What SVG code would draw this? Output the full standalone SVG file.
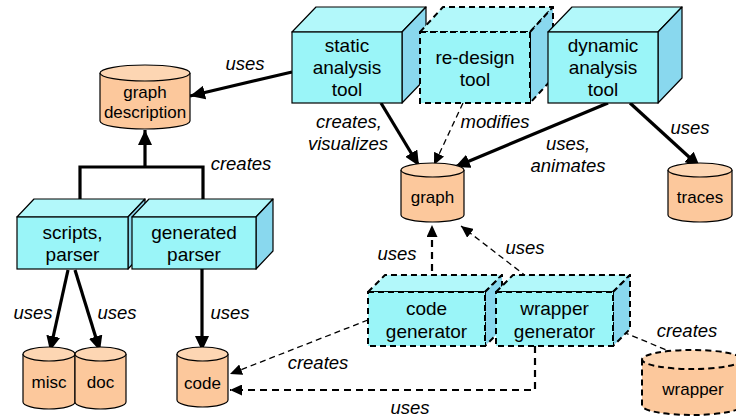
<svg xmlns="http://www.w3.org/2000/svg" width="736" height="418" viewBox="0 0 736 418">
  <style>
    .front { fill: #9af5f8; stroke: #000; stroke-width: 1.2; }
    .top { fill: #b2f8fa; stroke: #000; stroke-width: 1.2; stroke-linejoin: round; }
    .side { fill: #89d8ee; stroke: #000; stroke-width: 1.2; stroke-linejoin: round; }
    .dashed .front, .dashed .top, .dashed .side { stroke-width: 2; stroke-dasharray: 6 4; }
    .body { fill: #fcc89c; stroke: #000; stroke-width: 1.2; }
    .lid { fill: #fdd6b3; stroke: #000; stroke-width: 1.2; }
    .dashed .body, .dashed .lid { stroke-width: 2; stroke-dasharray: 6 4; }
    .box-text { font-family: "Liberation Sans", Arial, sans-serif; font-size: 19px; fill: #000; text-anchor: middle; }
    .db-text { font-family: "Liberation Sans", Arial, sans-serif; font-size: 17px; fill: #000; text-anchor: middle; }
    .label { font-family: "Liberation Sans", Arial, sans-serif; font-size: 18.5px; font-style: italic; fill: #000; text-anchor: middle; }
    .thick { fill: none; stroke: #000; stroke-width: 3.2; }
    .thick-dash { fill: none; stroke: #000; stroke-width: 2.2; stroke-dasharray: 7 5; }
    .thin-dash { fill: none; stroke: #000; stroke-width: 1.3; stroke-dasharray: 6 4; }
  </style>
  <defs>
    <marker id="head" markerUnits="userSpaceOnUse" markerWidth="16" markerHeight="14" refX="15" refY="7" orient="auto">
      <path d="M0,0 L15,7 L0,14 z" fill="#000"/>
    </marker>
    <marker id="head-small" markerUnits="userSpaceOnUse" markerWidth="13" markerHeight="11" refX="12" refY="5.5" orient="auto">
      <path d="M0,0 L12,5.5 L0,11 z" fill="#000"/>
    </marker>
  </defs>

  <!-- connectors -->
  <g id="connectors">
    <line class="thick" x1="292" y1="72" x2="190" y2="96" marker-end="url(#head)"/>
    <polyline class="thick" points="80,206 80,167 203,167 203,206" stroke-linejoin="miter"/>
    <line class="thick" x1="145" y1="167" x2="145" y2="130" marker-end="url(#head)"/>
    <line class="thick" x1="68" y1="270" x2="50" y2="351" marker-end="url(#head)"/>
    <line class="thick" x1="75" y1="270" x2="100" y2="351" marker-end="url(#head)"/>
    <line class="thick" x1="202" y1="269" x2="202" y2="351" marker-end="url(#head)"/>
    <line class="thick" x1="381" y1="103" x2="419" y2="166" marker-end="url(#head)"/>
    <line class="thin-dash" x1="463" y1="103" x2="434" y2="165" marker-end="url(#head-small)"/>
    <line class="thick" x1="608" y1="103" x2="455" y2="167" marker-end="url(#head)"/>
    <line class="thick" x1="630" y1="103" x2="700" y2="167" marker-end="url(#head)"/>
    <line class="thick-dash" x1="432" y1="283" x2="432" y2="225" marker-end="url(#head-small)"/>
    <line class="thin-dash" x1="535" y1="283" x2="461" y2="226" marker-end="url(#head-small)"/>
    <line class="thin-dash" x1="368" y1="320" x2="230" y2="374" marker-end="url(#head-small)"/>
    <polyline class="thick-dash" points="535,346 535,390 230,390" marker-end="url(#head-small)"/>
    <line class="thin-dash" x1="623" y1="332" x2="688" y2="359" marker-end="url(#head-small)"/>
  </g>

  <!-- connector labels -->
  <g id="labels">
    <text class="label" x="245" y="69.5">uses</text>
    <text class="label" x="241" y="170">creates</text>
    <text class="label" x="349" y="127.5">creates,</text>
    <text class="label" x="348" y="149.5">visualizes</text>
    <text class="label" x="495" y="127.5">modifies</text>
    <text class="label" x="568" y="149.5">uses,</text>
    <text class="label" x="568" y="171.5">animates</text>
    <text class="label" x="690" y="133.5">uses</text>
    <text class="label" x="397" y="259.5">uses</text>
    <text class="label" x="525" y="253.5">uses</text>
    <text class="label" x="33" y="318.5">uses</text>
    <text class="label" x="117" y="318.5">uses</text>
    <text class="label" x="230" y="318.5">uses</text>
    <text class="label" x="318" y="368.5">creates</text>
    <text class="label" x="410" y="413.5">uses</text>
    <text class="label" x="687" y="336.5">creates</text>
  </g>

  <!-- data stores -->
  <g id="graph-description">
    <path class="body" d="M100,73 V121 A45,8 0 0 0 190,121 V73"/>
    <ellipse class="lid" cx="145" cy="73" rx="45" ry="8"/>
    <text class="db-text" x="145" y="98">graph</text>
    <text class="db-text" x="145" y="118">description</text>
  </g>
  <g id="graph">
    <path class="body" d="M401,170 V215 A31.5,7 0 0 0 464,215 V170"/>
    <ellipse class="lid" cx="432.5" cy="170" rx="31.5" ry="7"/>
    <text class="db-text" x="432.5" y="203">graph</text>
  </g>
  <g id="traces">
    <path class="body" d="M668,170 V215 A32,7 0 0 0 732,215 V170"/>
    <ellipse class="lid" cx="700" cy="170" rx="32" ry="7"/>
    <text class="db-text" x="700" y="203">traces</text>
  </g>
  <g id="misc">
    <path class="body" d="M23,354 V402 A26,7 0 0 0 75,402 V354"/>
    <ellipse class="lid" cx="49" cy="354" rx="26" ry="7"/>
    <text class="db-text" x="49" y="388">misc</text>
  </g>
  <g id="doc">
    <path class="body" d="M75,354 V402 A25.5,7 0 0 0 126,402 V354"/>
    <ellipse class="lid" cx="100.5" cy="354" rx="25.5" ry="7"/>
    <text class="db-text" x="100.5" y="388">doc</text>
  </g>
  <g id="code">
    <path class="body" d="M177,354 V400 A25.5,7 0 0 0 228,400 V354"/>
    <ellipse class="lid" cx="202.5" cy="354" rx="25.5" ry="7"/>
    <text class="db-text" x="202.5" y="389">code</text>
  </g>
  <g id="wrapper" class="dashed">
    <path class="body" d="M642,359.5 V405.5 A50,9.5 0 0 0 742,405.5 V359.5"/>
    <ellipse class="lid" cx="692" cy="359.5" rx="50" ry="9.5"/>
    <text class="db-text" x="693" y="395">wrapper</text>
  </g>

  <!-- tools -->
  <g id="static-analysis-tool">
    <polygon class="top" points="292,32 316,7 426,7 402,32"/>
    <polygon class="side" points="402,32 426,7 426,78 402,103"/>
    <rect class="front" x="292" y="32" width="110" height="71"/>
    <text class="box-text" x="347" y="52">static</text>
    <text class="box-text" x="347" y="74">analysis</text>
    <text class="box-text" x="347" y="96">tool</text>
  </g>
  <g id="re-design-tool" class="dashed">
    <polygon class="top" points="420,32 443,7 553,7 530,32"/>
    <polygon class="side" points="530,32 553,7 553,78 530,103"/>
    <rect class="front" x="420" y="32" width="110" height="71"/>
    <text class="box-text" x="475" y="63.5">re-design</text>
    <text class="box-text" x="475" y="85.5">tool</text>
  </g>
  <g id="dynamic-analysis-tool">
    <polygon class="top" points="548,32 572,7 682,7 658,32"/>
    <polygon class="side" points="658,32 682,7 682,78 658,103"/>
    <rect class="front" x="548" y="32" width="110" height="71"/>
    <text class="box-text" x="603" y="52">dynamic</text>
    <text class="box-text" x="603" y="74">analysis</text>
    <text class="box-text" x="603" y="96">tool</text>
  </g>
  <g id="scripts-parser">
    <polygon class="top" points="17,217 34,199 145,199 128,217"/>
    <polygon class="side" points="128,217 145,199 145,251 128,269"/>
    <rect class="front" x="17" y="217" width="111" height="52"/>
    <text class="box-text" x="72.5" y="238.5">scripts,</text>
    <text class="box-text" x="72.5" y="260.5">parser</text>
  </g>
  <g id="generated-parser">
    <polygon class="top" points="132,217 149,199 273,199 256,217"/>
    <polygon class="side" points="256,217 273,199 273,251 256,269"/>
    <rect class="front" x="132" y="217" width="124" height="52"/>
    <text class="box-text" x="194" y="238.5">generated</text>
    <text class="box-text" x="194" y="260.5">parser</text>
  </g>
  <g id="code-generator" class="dashed">
    <polygon class="top" points="368,292 385,275 502,275 485,292"/>
    <polygon class="side" points="485,292 502,275 502,329 485,346"/>
    <rect class="front" x="368" y="292" width="117" height="54"/>
    <text class="box-text" x="426.5" y="314.5">code</text>
    <text class="box-text" x="426.5" y="337.5">generator</text>
  </g>
  <g id="wrapper-generator" class="dashed">
    <polygon class="top" points="496,292 513,275 630,275 613,292"/>
    <polygon class="side" points="613,292 630,275 630,329 613,346"/>
    <rect class="front" x="496" y="292" width="117" height="54"/>
    <text class="box-text" x="554.5" y="314.5">wrapper</text>
    <text class="box-text" x="554.5" y="337.5">generator</text>
  </g>
</svg>
